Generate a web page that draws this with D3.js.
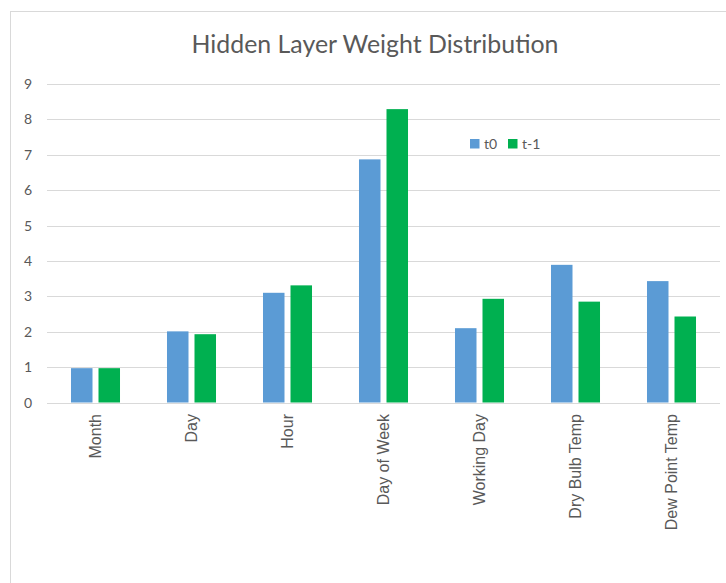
<!DOCTYPE html>
<html>
<head>
<meta charset="utf-8">
<script src="https://cdn.jsdelivr.net/npm/d3@7"></script>
<style>
  html, body { margin: 0; padding: 0; background: #fff; }
  svg { display: block; }
</style>
</head>
<body>
<svg id="chart" width="726" height="583"></svg>
<script>
const title = "Hidden Layer Weight Distribution";
const categories = ["Month", "Day", "Hour", "Day of Week", "Working Day", "Dry Bulb Temp", "Dew Point Temp"];
const seriesNames = ["t0", "t-1"];
const t0Values = [0.97, 2.01, 3.10, 6.87, 2.10, 3.89, 3.43];
const tMinus1Values = [0.97, 1.93, 3.31, 8.29, 2.93, 2.85, 2.43];
const yTicks = [0, 1, 2, 3, 4, 5, 6, 7, 8, 9];
const colors = ["#5B9BD5", "#00B050"];

const svg = d3.select("#chart");
const textColor = "#595959";
const gridColor = "#d9d9d9";

// outer chart border (extends beyond the visible window on right and bottom)
svg.append("rect")
  .attr("x", 10.5).attr("y", 11.5)
  .attr("width", 800).attr("height", 700)
  .attr("fill", "none").attr("stroke", "#d9d9d9").attr("stroke-width", 1);

const x0 = d3.scaleBand().domain(categories).range([47.5, 719.5]).padding(0);
const x1 = d3.scaleBand().domain(seriesNames).range([0, x0.bandwidth()])
  .paddingInner(0.218).paddingOuter(0.854);
const y = d3.scaleLinear().domain([0, 9]).range([402.5, 84]);

// gridlines
svg.append("g")
  .selectAll("line")
  .data(yTicks)
  .join("line")
  .attr("x1", 47).attr("x2", 720)
  .attr("y1", d => Math.round(y(d)) + 0.5)
  .attr("y2", d => Math.round(y(d)) + 0.5)
  .attr("stroke", gridColor).attr("stroke-width", 1);

// y tick labels
svg.append("g")
  .selectAll("text")
  .data(yTicks)
  .join("text")
  .attr("x", 32)
  .attr("y", d => y(d))
  .attr("dy", "0.36em")
  .attr("text-anchor", "end")
  .attr("font-family", "Lato, 'Open Sans', sans-serif")
  .attr("font-size", 14)
  .attr("fill", textColor)
  .text(d => d);

// bars
const rows = categories.map((c, i) => ({ cat: c, vals: [t0Values[i], tMinus1Values[i]] }));
const groups = svg.append("g").selectAll("g")
  .data(rows)
  .join("g")
  .attr("transform", d => `translate(${x0(d.cat)},0)`);
groups.selectAll("rect")
  .data(d => d.vals.map((v, j) => ({ key: seriesNames[j], v, j })))
  .join("rect")
  .attr("x", d => x1(d.key))
  .attr("width", x1.bandwidth())
  .attr("y", d => y(d.v))
  .attr("height", d => y(0) - y(d.v))
  .attr("fill", d => colors[d.j]);

// category labels (rotated)
svg.append("g")
  .selectAll("text")
  .data(categories)
  .join("text")
  .attr("transform", d => `translate(${x0(d) + x0.bandwidth() / 2},414) rotate(-90)`)
  .attr("dy", "0.35em")
  .attr("text-anchor", "end")
  .attr("font-family", "'Liberation Sans', Arial, sans-serif")
  .attr("font-size", 16)
  .attr("fill", textColor)
  .text(d => d);

// title
const t = svg.append("text")
  .attr("x", 375).attr("y", 53)
  .attr("text-anchor", "middle")
  .attr("font-family", "Lato, 'Open Sans', sans-serif")
  .attr("font-size", 22)
  .attr("fill", textColor)
  .text(title);
const len = t.node().getComputedTextLength();
if (len > 0) t.attr("font-size", 22 * 367 / len);

// legend
const legendX = [470, 508];
const lg = svg.append("g").selectAll("g")
  .data(seriesNames)
  .join("g")
  .attr("transform", (d, i) => `translate(${legendX[i]},139)`);
lg.append("rect")
  .attr("width", 9.5).attr("height", 9.5)
  .attr("fill", (d, i) => colors[i]);
lg.append("text")
  .attr("x", 14).attr("y", 5)
  .attr("dy", "0.36em")
  .attr("font-family", "Lato, 'Open Sans', sans-serif")
  .attr("font-size", 14)
  .attr("fill", textColor)
  .text(d => d);
</script>
</body>
</html>
